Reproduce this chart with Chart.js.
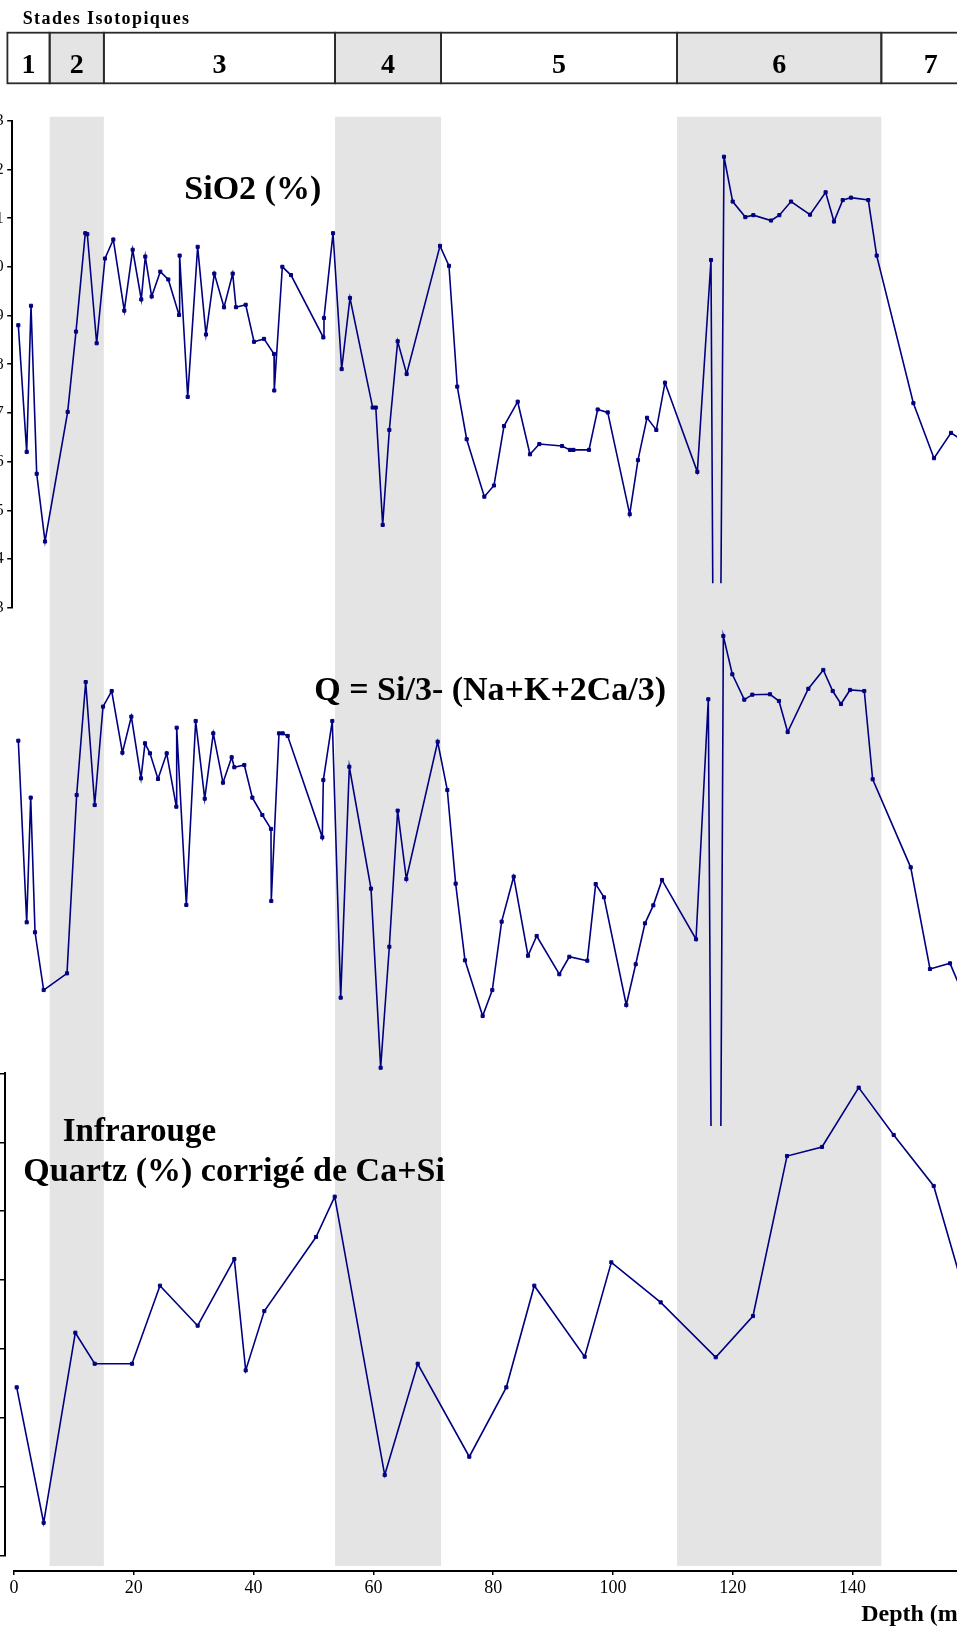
<!DOCTYPE html>
<html>
<head>
<meta charset="utf-8">
<script src="https://cdn.jsdelivr.net/npm/chart.js@4/dist/chart.umd.min.js"></script>
<style>
  html, body { margin: 0; padding: 0; width: 957px; height: 1631px; overflow: hidden; background: #fff; }
  #wrap { position: absolute; left: -40px; top: 0; width: 1040px; height: 1631px; }
  #wrap canvas { position: absolute; left: 0; top: 0; }
</style>
</head>
<body>
<div id="wrap">
  <canvas id="cBase" width="1040" height="1631" style="width:1040px;height:1631px"></canvas>
  <canvas id="cSi" width="1040" height="1631" style="width:1040px;height:1631px"></canvas>
  <canvas id="cQ" width="1040" height="1631" style="width:1040px;height:1631px"></canvas>
  <canvas id="cIR" width="1040" height="1631" style="width:1040px;height:1631px"></canvas>
</div>
<script>
// ---------------- DATA ----------------
const stageLabels = ['1', '2', '3', '4', '5', '6', '7'];
const stageBounds = [-1.1, 5.95, 15.0, 53.6, 71.3, 110.7, 144.8, 161.3]; // depth (m)
const stageShaded = [false, true, false, true, false, true, false];

const sio2Depth = [0.72, 2.12, 2.84, 3.79, 5.18, 8.96, 10.35, 11.9, 12.24, 13.8, 15.19, 16.58, 18.41, 19.81, 21.25, 21.92, 22.98, 24.42, 25.76, 27.55, 27.65, 29.0, 30.66, 32.05, 33.44, 35.06, 36.51, 37.06, 38.68, 40.07, 41.74, 43.41, 43.45, 44.8, 46.24, 51.64, 51.75, 53.26, 54.7, 56.09, 59.88, 60.4, 61.55, 62.66, 64.05, 65.55, 71.12, 72.62, 74.0, 75.57, 78.52, 80.13, 81.8, 84.09, 86.14, 87.7, 91.49, 92.82, 93.4, 95.99, 97.44, 99.12, 102.79, 104.17, 105.68, 107.23, 108.68, 114.08, 116.36, 116.9, 117.7, 118.53, 119.98, 122.09, 123.43, 126.38, 127.77, 129.72, 132.89, 135.5, 136.89, 138.35, 139.73, 142.62, 144.02, 150.15, 153.59, 156.43, 159.5];
const sio2Values = [68.80, 66.20, 69.20, 65.75, 64.36, 67.02, 68.67, 70.69, 70.67, 68.43, 70.17, 70.56, 69.10, 70.35, 69.33, 70.21, 69.39, 69.90, 69.74, 69.01, 70.23, 67.33, 70.41, 68.61, 69.86, 69.17, 69.86, 69.17, 69.22, 68.46, 68.52, 68.21, 67.46, 70.00, 69.83, 68.55, 68.95, 70.69, 67.90, 69.36, 67.11, 67.11, 64.70, 66.65, 68.47, 67.80, 70.43, 70.02, 67.54, 66.46, 65.28, 65.51, 66.73, 67.23, 66.15, 66.36, 66.32, 66.24, 66.24, 66.24, 67.07, 67.01, 64.92, 66.03, 66.90, 66.65, 67.62, 65.79, 70.14, 58.0, 58.0, 72.26, 71.34, 71.02, 71.06, 70.95, 71.06, 71.34, 71.07, 71.53, 70.93, 71.37, 71.42, 71.37, 70.23, 67.20, 66.07, 66.59, 66.34];

const qDepth = [0.72, 2.12, 2.79, 3.51, 4.95, 8.85, 10.46, 11.97, 13.47, 14.86, 16.31, 18.1, 19.59, 21.2, 21.87, 22.7, 24.04, 25.49, 27.1, 27.16, 28.77, 30.33, 31.84, 33.27, 34.89, 36.34, 36.78, 38.45, 39.79, 41.46, 42.9, 42.95, 44.24, 44.85, 45.69, 51.47, 51.64, 53.14, 54.54, 55.98, 59.6, 61.21, 62.66, 64.05, 65.5, 70.73, 72.34, 73.73, 75.29, 78.24, 79.85, 81.41, 83.42, 85.81, 87.26, 91.04, 92.71, 95.71, 97.11, 98.5, 102.22, 103.79, 105.34, 106.73, 108.18, 113.86, 115.91, 116.5, 117.9, 118.42, 119.92, 121.92, 123.26, 126.21, 127.71, 129.16, 132.61, 135.11, 136.68, 138.06, 139.57, 141.95, 143.35, 149.7, 152.92, 156.26, 158.5];
const qValues = [39.30, 25.49, 34.97, 24.73, 20.34, 21.61, 35.17, 43.76, 34.41, 41.89, 43.08, 38.39, 41.13, 36.44, 39.10, 38.34, 36.39, 38.34, 34.28, 40.29, 26.81, 40.80, 34.89, 39.86, 36.11, 38.04, 37.28, 37.45, 34.97, 33.65, 32.59, 27.11, 39.86, 39.86, 39.66, 31.95, 36.31, 40.80, 19.76, 37.32, 28.05, 14.43, 23.63, 33.98, 28.78, 39.22, 35.55, 28.43, 22.60, 18.37, 20.34, 25.54, 28.96, 22.95, 24.45, 21.54, 22.87, 22.57, 28.40, 27.39, 19.20, 22.30, 25.41, 26.78, 28.71, 24.20, 42.45, 0, 0, 47.26, 44.35, 42.42, 42.80, 42.83, 42.32, 39.96, 43.25, 44.68, 43.08, 42.09, 43.16, 43.08, 36.37, 29.67, 21.94, 22.37, 19.96];

const irDepth = [0.45, 4.95, 10.24, 13.47, 19.7, 24.37, 30.66, 36.78, 38.68, 41.79, 50.42, 53.54, 61.89, 67.4, 76.01, 82.19, 86.86, 95.27, 99.72, 107.96, 117.15, 123.37, 129.05, 134.89, 141.02, 146.86, 153.54, 160.0];
const irValues = [32.23, 22.41, 36.19, 33.94, 33.94, 39.60, 36.70, 41.53, 33.46, 37.76, 43.13, 46.05, 25.87, 33.94, 27.20, 32.23, 39.60, 34.45, 41.29, 38.39, 34.41, 37.40, 49.00, 49.66, 53.96, 50.53, 46.83, 37.11];

const sio2Range = [63, 73];   // SiO2 (%) axis
const qRange = [10, 50];      // Q axis (not displayed)
const irRange = [20, 55];     // Quartz (%) axis
const depthStep = 20;

// ---------------- LAYOUT ----------------
const SERIF = '"Liberation Serif", "Times New Roman", serif';
const NAVY = '#000080';
const GRAY = '#e4e4e4';
const OFFSET = 40;               // canvases start 40px left of the page
const CW = 1040, CH = 1631;
const X0 = 14, PPM = 5.99;       // page x of depth 0, pixels per metre

Chart.defaults.font.family = SERIF;

function textPlugin(items) {
  return {
    id: 'panelText',
    afterDatasetsDraw(chart) {
      const ctx = chart.ctx;
      ctx.save();
      ctx.fillStyle = '#000';
      ctx.textAlign = 'left';
      ctx.textBaseline = 'alphabetic';
      for (const it of items) {
        ctx.font = 'bold ' + it.size + 'px ' + SERIF;
        ctx.fillText(it.text, it.x + OFFSET, it.y);
      }
      ctx.restore();
    }
  };
}

const stagePlugin = {
  id: 'stages',
  beforeDatasetsDraw(chart) {
    const { ctx, chartArea, scales } = chart;
    const x = scales.x;
    ctx.save();
    // shaded bands across the plots
    ctx.fillStyle = GRAY;
    for (let i = 0; i < stageLabels.length; i++) {
      if (!stageShaded[i]) continue;
      const x1 = x.getPixelForValue(stageBounds[i]);
      const x2 = x.getPixelForValue(stageBounds[i + 1]);
      ctx.fillRect(x1, chartArea.top, x2 - x1, chartArea.bottom - 5 - chartArea.top);
    }
    // isotopic stage box
    const BT = 32.7, BB = 83.3;
    for (let i = 0; i < stageLabels.length; i++) {
      const x1 = x.getPixelForValue(stageBounds[i]);
      const x2 = x.getPixelForValue(stageBounds[i + 1]);
      ctx.fillStyle = stageShaded[i] ? GRAY : '#fff';
      ctx.fillRect(x1, BT, x2 - x1, BB - BT);
    }
    ctx.strokeStyle = '#2a2a2a';
    ctx.lineWidth = 1.8;
    for (let i = 0; i < stageLabels.length; i++) {
      const x1 = x.getPixelForValue(stageBounds[i]);
      const x2 = x.getPixelForValue(stageBounds[i + 1]);
      ctx.strokeRect(x1, BT, x2 - x1, BB - BT);
    }
    ctx.fillStyle = '#000';
    ctx.textAlign = 'center';
    ctx.textBaseline = 'alphabetic';
    ctx.font = 'bold 28px ' + SERIF;
    for (let i = 0; i < stageLabels.length; i++) {
      const x1 = x.getPixelForValue(stageBounds[i]);
      const x2 = x.getPixelForValue(stageBounds[i + 1]);
      ctx.fillText(stageLabels[i], (x1 + x2) / 2, 72.7);
    }
    ctx.textAlign = 'left';
    ctx.font = 'bold 18px ' + SERIF;
    try { ctx.letterSpacing = '1.4px'; } catch (e) {}
    ctx.fillText('Stades Isotopiques', 22.7 + OFFSET, 23.5);
    ctx.restore();
  }
};

// ---------------- BASE CHART: stages, bands, depth axis ----------------
const baseMin = 0, baseMax = 158.9;
new Chart(document.getElementById('cBase'), {
  type: 'line',
  data: { datasets: [] },
  options: {
    responsive: false, animation: false, devicePixelRatio: 1, events: [],
    layout: { padding: { left: OFFSET + X0 + baseMin * PPM, right: CW - (OFFSET + X0 + baseMax * PPM), top: 116.7, bottom: 0 } },
    plugins: { legend: { display: false }, tooltip: { enabled: false } },
    scales: {
      x: {
        type: 'linear', position: 'bottom', min: baseMin, max: baseMax,
        afterFit: s => { s.height = CH - 1571; },
        border: { display: true, color: '#000', width: 2 },
        grid: { drawOnChartArea: false, drawTicks: true, tickLength: 4, color: '#000', lineWidth: 1.5 },
        ticks: { stepSize: depthStep, includeBounds: false, autoSkip: false, maxRotation: 0, padding: 2.5, color: '#000', font: { family: SERIF, size: 18 } },
        title: { display: true, text: 'Depth (m)', align: 'end', color: '#000', font: { family: SERIF, size: 24, weight: 'bold' }, padding: { top: 0, bottom: 2 } }
      },
      y: { display: false, min: 0, max: 1 }
    }
  },
  plugins: [stagePlugin]
});

// ---------------- PANELS ----------------
function panel(id, p) {
  const left = OFFSET + X0 + p.xMin * PPM;
  const right = CW - (OFFSET + X0 + p.xMax * PPM);
  const yScale = {
    type: 'linear', display: p.showY, min: p.yRange[0], max: p.yRange[1],
    border: { display: true, color: '#000', width: 2 },
    grid: { drawOnChartArea: false, drawTicks: true, tickLength: p.tickLen || 4.5, color: '#000', lineWidth: 1.5 },
    ticks: { stepSize: p.yStep, autoSkip: false, padding: 3.5, color: '#111', font: { family: SERIF, size: 17 } }
  };
  if (p.showY) yScale.afterFit = s => { s.width = left; };
  const ds = {
    data: p.depth.map((d, i) => ({ x: d, y: p.values[i] })),
    borderColor: NAVY, borderWidth: 1.6, tension: 0, fill: false,
    pointStyle: 'rect', pointRadius: 2.2, pointBorderWidth: 1,
    pointBackgroundColor: NAVY, pointBorderColor: NAVY
  };
  if (p.clip !== undefined) ds.clip = p.clip;
  return new Chart(document.getElementById(id), {
    type: 'line',
    data: { datasets: [ds] },
    options: {
      responsive: false, animation: false, devicePixelRatio: 1, events: [],
      layout: { padding: { left: p.showY ? 0 : left, right: right, top: p.top, bottom: CH - p.bottom } },
      plugins: { legend: { display: false }, tooltip: { enabled: false } },
      scales: {
        x: { type: 'linear', display: false, min: p.xMin, max: p.xMax },
        y: yScale
      }
    },
    plugins: [textPlugin(p.texts)]
  });
}

panel('cSi', {
  xMin: -0.384, xMax: 162, top: 120.7, bottom: 607.7, showY: true, tickLen: 4.5,
  yRange: sio2Range, yStep: 1, depth: sio2Depth, values: sio2Values,
  clip: { left: false, top: false, right: false, bottom: -24.4 },
  texts: [{ text: 'SiO2 (%)', x: 184.3, y: 199.3, size: 34 }]
});

panel('cQ', {
  xMin: 0, xMax: 162, top: 600, bottom: 1126, showY: false,
  yRange: qRange, yStep: 10, depth: qDepth, values: qValues,
  texts: [{ text: 'Q = Si/3- (Na+K+2Ca/3)', x: 314.3, y: 700, size: 34 }]
});

panel('cIR', {
  xMin: -1.5, xMax: 162, top: 1073.3, bottom: 1556, showY: true, tickLen: 5,
  yRange: irRange, yStep: 5, depth: irDepth, values: irValues,
  texts: [
    { text: 'Infrarouge', x: 62.7, y: 1141, size: 33 },
    { text: 'Quartz (%) corrigé de Ca+Si', x: 23.3, y: 1180.7, size: 34 }
  ]
});
</script>
</body>
</html>
